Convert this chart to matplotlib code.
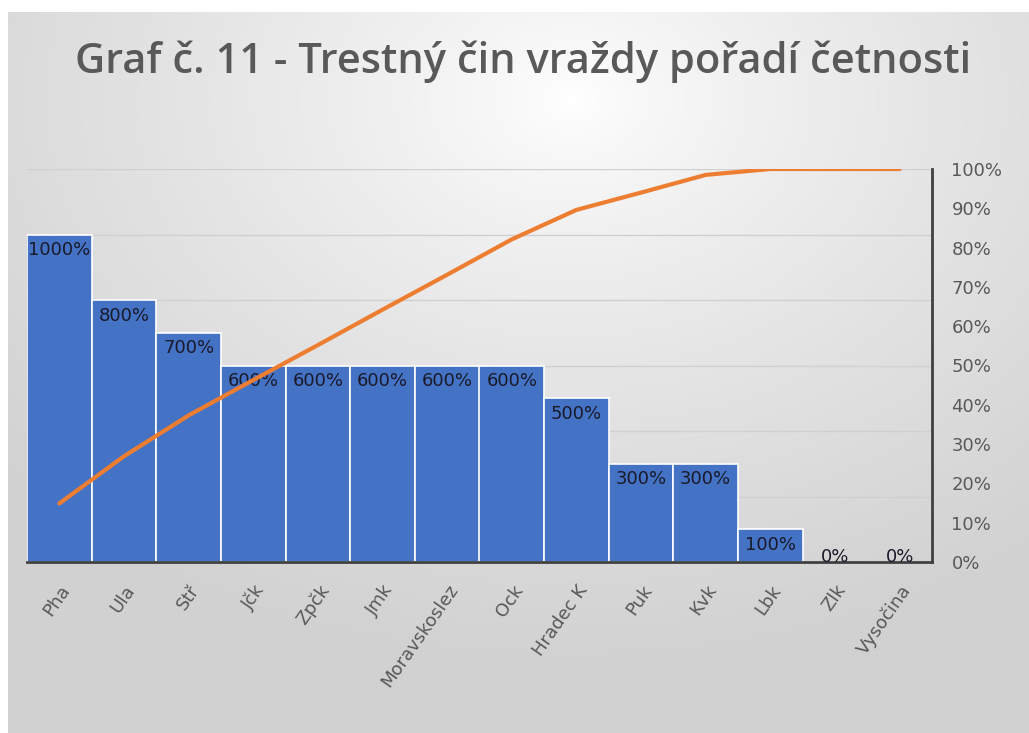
import numpy as np
import matplotlib
matplotlib.use("Agg")
import matplotlib.pyplot as plt
from matplotlib.ticker import FuncFormatter

categories = ["Pha", "Ula", "Stř", "Jčk", "Zpčk", "Jmk", "Moravskoslez", "Ock",
              "Hradec K", "Puk", "Kvk", "Lbk", "Zlk", "Vysočina"]
counts = [10, 8, 7, 6, 6, 6, 6, 6, 5, 3, 3, 1, 0, 0]
bar_labels = ["1000%", "800%", "700%", "600%", "600%", "600%", "600%", "600%",
              "500%", "300%", "300%", "100%", "0%", "0%"]
cumulative_pct = [14.9, 26.9, 37.3, 46.3, 55.2, 64.2, 73.1, 82.1, 89.6, 94.0,
                  98.5, 100.0, 100.0, 100.0]
title = "Graf č. 11 - Trestný čin vraždy pořadí četnosti"

W, H = 1029, 733
fig = plt.figure(figsize=(W / 100, H / 100), dpi=100)
fig.patch.set_facecolor("white")

# gradient background of chart area
bg = fig.add_axes([8 / W, 0, 1 - 8 / W, (H - 12) / H], zorder=-10)
ny, nx = 300, 420
yy, xx = np.mgrid[0:ny, 0:nx]
cx, cy = 0.55 * nx, 0.12 * ny
d = np.sqrt(((xx - cx) / nx) ** 2 * 1.0 + ((yy - cy) / ny) ** 2 * 0.9)
d = np.clip(d / 0.75, 0, 1)
val = 1.0 - 0.18 * d ** 0.8
img = np.dstack([val, val, val])
bg.imshow(img, aspect="auto", extent=[0, 1, 0, 1], origin="upper")
bg.set_axis_off()

# main axes
L, R, T, B = 27, 932, 169, 562
ax = fig.add_axes([L / W, (H - B) / H, (R - L) / W, (B - T) / H])
ax.patch.set_alpha(0)
x = np.arange(len(categories))
ax.set_xlim(-0.5, len(categories) - 0.5)
ax.set_ylim(0, 12)
ax.set_yticks(np.arange(0, 13, 2))
ax.yaxis.grid(True, color="#d0d0d0", linewidth=1)
ax.set_axisbelow(True)
bars = ax.bar(x, counts, width=1.0, color="#4472C4", edgecolor="white",
              linewidth=1.2, zorder=2)
for xi, c, lab in zip(x, counts, bar_labels):
    if c > 0:
        ax.text(xi, c - 0.2, lab, ha="center", va="top", fontsize=13,
                color="#1a1a2a", zorder=5)
    else:
        ax.text(xi, -0.12, lab, ha="center", va="bottom", fontsize=13,
                color="#1a1a2a", zorder=5)

for s in ["top", "left", "right"]:
    ax.spines[s].set_visible(False)
ax.spines["bottom"].set_color("#404040")
ax.spines["bottom"].set_linewidth(2)
ax.spines["bottom"].set_zorder(4)

ax.set_xticks(x)
ax.set_xticklabels(categories, rotation=55, ha="right", rotation_mode="anchor",
                   fontsize=13, color="#595959")
ax.tick_params(axis="x", length=0, pad=14)

ax2 = ax.twinx()
ax.tick_params(axis="y", left=False, right=False, labelleft=False, labelright=False)
ax2.set_ylim(0, 1)
ax2.set_yticks(np.arange(0, 1.01, 0.1))
ax2.yaxis.set_major_formatter(FuncFormatter(lambda v, p: f"{int(round(v * 100))}%"))
ax2.tick_params(axis="y", length=0, pad=14, labelsize=13, labelcolor="#595959")
for s in ["top", "left", "bottom"]:
    ax2.spines[s].set_visible(False)
ax2.spines["right"].set_color("#404040")
ax2.spines["right"].set_linewidth(2)
ax2.plot(x, np.array(cumulative_pct) / 100, color="#ED7D31", linewidth=3,
         solid_capstyle="round", zorder=6)

fig.text(0.508, (H - 62) / H, title, ha="center", va="center", fontsize=30,
         color="#595959", family="Open Sans", fontweight="semibold")

fig.savefig("out.png", dpi=100)
